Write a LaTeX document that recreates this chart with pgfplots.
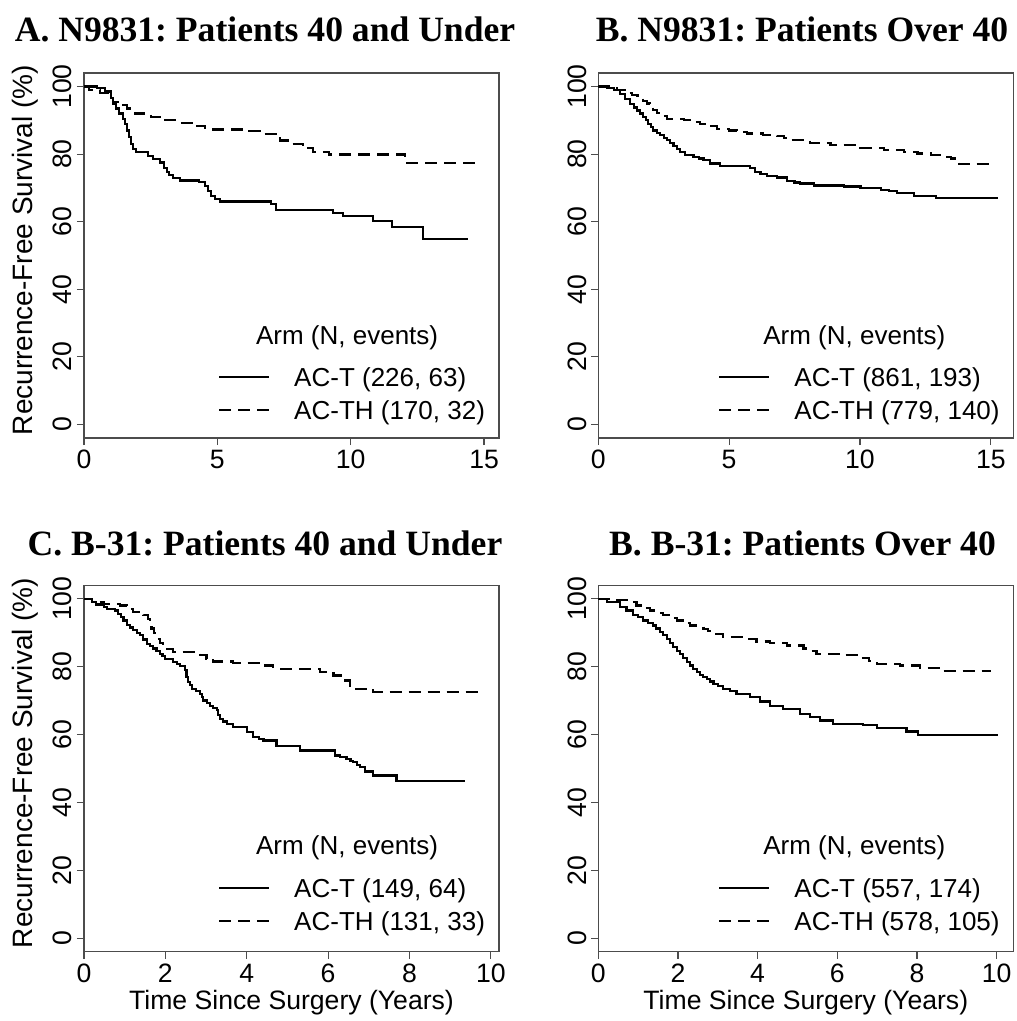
\documentclass[border=0pt]{standalone}
\usepackage{fontspec}
\setmainfont{Liberation Sans}
\newfontfamily\titlefont{Liberation Serif}
\usepackage{pgfplots}
\pgfplotsset{compat=1.18}
\definecolor{frame}{gray}{0.3}
\pgfplotsset{
 km/.style={
  scale only axis, width=207.5pt, height=182.5pt,
  ymin=-4, ymax=104, xmin=0,
  ytick={0,20,...,100},
  axis line style={frame, line width=0.6pt},
  tick style={frame, line width=0.6pt},
  tick align=outside, major tick length=3.5pt,
  xtick pos=left, ytick pos=left,
  /pgf/number format/assume math mode=true,
  tick label style={font=\fontsize{13.3}{15}\selectfont, inner sep=0pt},
  yticklabel style={rotate=90, anchor=base},
  xticklabel style={anchor=north},
  xticklabel shift=2.5pt, yticklabel shift=2.5pt,
  every axis y label/.style={at={(axis description cs:-0.142,0.515)}, rotate=90, anchor=center, font=\fontsize{14}{16}\selectfont},
  every axis x label/.style={at={(axis description cs:0.5,-0.14)}, anchor=center, font=\fontsize{13.3}{15}\selectfont},
  legend style={draw=none, fill=none, inner sep=0pt, outer sep=0pt, font=\fontsize{13}{15}\selectfont, row sep=3.5pt, column sep=12pt, nodes={inner sep=0pt, text height=10pt, text depth=3pt}, anchor=north west},
  legend cell align=left,
  legend image code/.code={\draw[#1] (0pt,1.2pt) -- (25pt,1.2pt);},
 },
 ac/.style={const plot, black, line width=1.1pt},
 ach/.style={const plot, black, line width=1.1pt, dash pattern=on 6pt off 3.5pt},
}
\newcommand{\armtitle}{\fontsize{13}{15}\selectfont Arm (N, events)}
\begin{document}
\frenchspacing
\begin{tikzpicture}
\useasboundingbox (0pt,0pt) rectangle (508pt,-510.5pt);
% Panel A
\begin{axis}[km, at={(42pt,-219pt)}, anchor=south west, xmax=15.56, xtick={0,5,10,15},
  ylabel={Recurrence-Free Survival (\%)}, legend style={at={(0.323,0.197)}}]
\addplot[ac] coordinates {(0,100)(0.5,99.5)(0.8,98.5)(1.0,96.5)(1.1,95)(1.2,93.5)(1.3,92)(1.45,90.5)(1.55,89)(1.62,87)(1.7,85)(1.76,83)(1.85,81.5)(1.95,80.7)(2.4,79.5)(2.6,78.6)(2.85,77.5)(3.0,76)(3.1,74.8)(3.2,73.8)(3.35,73)(3.6,72.2)(4.3,71.7)(4.55,70.5)(4.65,69)(4.75,67.5)(4.9,66.8)(5.1,66)(7.0,65.3)(7.2,63.5)(9.35,62.5)(9.7,61.6)(10.85,60.1)(11.55,58.4)(12.7,54.9)(14.41,54.9)};
\addlegendentry{{AC-T (226, 63)}}
\addplot[ach] coordinates {(0,100)(0.2,99)(0.6,98)(0.9,96.5)(1.1,95.5)(1.4,94.5)(1.6,93.5)(1.9,92)(2.5,91)(2.9,90)(3.5,89.3)(4.1,88.3)(4.55,87.3)(6.2,86.8)(6.6,86.0)(7.2,85)(7.35,84)(7.7,83)(8.2,81.7)(8.6,80.7)(9.2,79.9)(12.05,77.3)(14.91,77.3)};
\addlegendentry{{AC-TH (170, 32)}}
\node[anchor=center] at (rel axis cs:0.634,0.274) {\armtitle};
\end{axis}
% Panel B
\begin{axis}[km, at={(299.15pt,-219pt)}, anchor=south west, xmax=15.86, xtick={0,5,10,15},
  legend style={at={(0.289,0.197)}}]
\addplot[ac] coordinates {(0,100)(0.32,99.6)(0.6,99)(0.83,97.8)(1.02,96.4)(1.21,94.9)(1.35,93.8)(1.47,92.9)(1.6,92)(1.72,91)(1.82,90)(1.91,89)(2.0,88)(2.1,87)(2.25,86.2)(2.36,85.6)(2.5,84.8)(2.62,84.1)(2.75,83.2)(2.87,82.3)(3.0,81.5)(3.13,80.7)(3.32,79.7)(3.64,79.2)(3.85,78.7)(4.02,78.2)(4.28,77.2)(4.66,76.4)(5.81,75.8)(6.0,74.8)(6.2,74.1)(6.45,73.5)(6.83,73.1)(7.21,72.1)(7.5,71.6)(7.72,71.3)(8.23,70.7)(9.38,70.4)(10.02,69.9)(10.79,69.4)(11.1,69)(11.43,68.4)(12.06,67.7)(12.9,66.9)(15.29,66.9)};
\addlegendentry{{AC-T (861, 193)}}
\addplot[ach] coordinates {(0,100)(0.7,99)(1.09,98)(1.3,97.5)(1.5,96.8)(1.72,95.8)(1.85,95)(1.98,93.9)(2.1,93)(2.23,92.1)(2.4,91.3)(2.62,90.5)(3.26,90)(3.6,89.5)(3.89,89)(4.2,88.2)(4.53,87.5)(5.0,87)(5.3,86.6)(5.68,86.1)(6.3,85.7)(6.83,85.3)(7.1,84.7)(7.34,84.1)(8.1,83.3)(8.87,82.6)(10.02,81.9)(10.92,81.2)(11.68,80.7)(12.2,80.2)(12.7,79.7)(13.1,79.2)(13.47,78.7)(13.79,77)(15.06,77)};
\addlegendentry{{AC-TH (779, 140)}}
\node[anchor=center] at (rel axis cs:0.617,0.274) {\armtitle};
\end{axis}
% Panel C
\begin{axis}[km, at={(42pt,-475.85pt)}, anchor=south west, height=183.3pt, xmax=10.2, xtick={0,2,...,10},
  ylabel={Recurrence-Free Survival (\%)}, xlabel={Time Since Surgery (Years)}, legend style={at={(0.323,0.203)}}]
\addplot[ac] coordinates {(0,100)(0.19,99)(0.3,98.3)(0.5,97.5)(0.56,97)(0.76,96.5)(0.84,95.6)(0.9,94.6)(0.97,93.6)(1.05,92.3)(1.13,91.5)(1.21,90.7)(1.3,90)(1.38,89.2)(1.45,88)(1.54,86.7)(1.62,86)(1.7,85.3)(1.78,84.5)(1.87,83.8)(1.93,83)(1.99,82.3)(2.19,81.3)(2.28,80.7)(2.36,80.1)(2.48,78.9)(2.52,77)(2.56,75.4)(2.6,74.5)(2.65,73.5)(2.75,72.7)(2.85,72)(2.9,71)(2.93,70)(3.02,69.2)(3.1,68.5)(3.18,67.8)(3.26,67.1)(3.3,65.8)(3.34,64.6)(3.42,63.8)(3.51,63.1)(3.67,62.3)(4.0,60.7)(4.16,59.2)(4.3,58.6)(4.41,58.2)(4.73,56.7)(5.31,55.3)(6.17,53.8)(6.3,53.3)(6.45,52.8)(6.55,52.3)(6.62,51.8)(6.7,51)(6.78,50.3)(6.9,49.1)(7.11,47.9)(7.68,46.4)(9.36,46.4)};
\addlegendentry{{AC-T (149, 64)}}
\addplot[ach] coordinates {(0,100)(0.2,99)(0.48,98.5)(0.88,98)(1.05,97)(1.21,96.1)(1.46,95.1)(1.58,94.1)(1.62,92.5)(1.66,91.2)(1.72,89.8)(1.79,88.2)(1.87,87)(1.95,86.2)(2.05,85.2)(2.19,84.3)(2.69,83.8)(2.85,83.3)(3.01,82.3)(3.18,81.5)(3.67,81)(4.32,80.3)(4.65,79.4)(5.8,78.4)(6.13,77.4)(6.37,75.9)(6.54,74.4)(6.62,73.5)(7.11,72.5)(9.73,72.5)};
\addlegendentry{{AC-TH (131, 33)}}
\node[anchor=center] at (rel axis cs:0.634,0.283) {\armtitle};
\end{axis}
% Panel D
\begin{axis}[km, at={(299.15pt,-475.85pt)}, anchor=south west, height=183.3pt, xmax=10.42, xtick={0,2,...,10},
  xlabel={Time Since Surgery (Years)}, legend style={at={(0.289,0.203)}}]
\addplot[ac] coordinates {(0,100)(0.21,99)(0.54,97.5)(0.71,96.5)(0.88,95.3)(1.0,94.5)(1.13,93.6)(1.25,92.8)(1.38,92.1)(1.45,91.2)(1.55,90.2)(1.63,89.2)(1.72,88.2)(1.8,87)(1.88,85.7)(1.97,84.7)(2.05,83.8)(2.13,82.5)(2.22,81.3)(2.3,80.3)(2.38,79.4)(2.47,78.5)(2.55,77.6)(2.63,77)(2.72,76.4)(2.8,75.6)(2.89,74.9)(3.0,74.2)(3.14,73.5)(3.3,72.7)(3.47,72)(3.81,71)(4.06,69.7)(4.31,68.5)(4.64,67.6)(5.06,66.1)(5.31,65.1)(5.56,64.1)(5.9,63.1)(6.65,62.8)(6.99,61.8)(7.74,60.9)(8.03,59.9)(10.03,59.9)};
\addlegendentry{{AC-T (557, 174)}}
\addplot[ach] coordinates {(0,100)(0.46,99.5)(0.79,99)(0.96,98)(1.13,97.2)(1.3,96.5)(1.47,95.8)(1.63,95.1)(1.8,94.3)(1.97,93.6)(2.15,92.8)(2.3,92.1)(2.64,91.1)(2.75,90.4)(2.89,89.7)(3.14,88.7)(3.64,88.2)(3.97,87.4)(4.31,87)(4.73,86.2)(5.15,85.3)(5.3,84.5)(5.48,83.8)(6.15,83.3)(6.57,82.5)(6.8,81.6)(6.99,80.8)(7.57,80.3)(8.08,79.5)(8.66,78.6)(9.87,78.6)};
\addlegendentry{{AC-TH (578, 105)}}
\node[anchor=center] at (rel axis cs:0.617,0.283) {\armtitle};
\end{axis}
% Titles
\begin{scope}[every node/.style={font=\titlefont\bfseries\fontsize{17.8}{20}\selectfont, anchor=base, inner sep=0pt}]
\node at (132.5pt,-21pt) {A. N9831: Patients 40 and Under};
\node at (401pt,-21pt) {B. N9831: Patients Over 40};
\node at (132.5pt,-277.5pt) {C. B-31: Patients 40 and Under};
\node at (401.25pt,-277.5pt) {B. B-31: Patients Over 40};
\end{scope}
\end{tikzpicture}
\end{document}
